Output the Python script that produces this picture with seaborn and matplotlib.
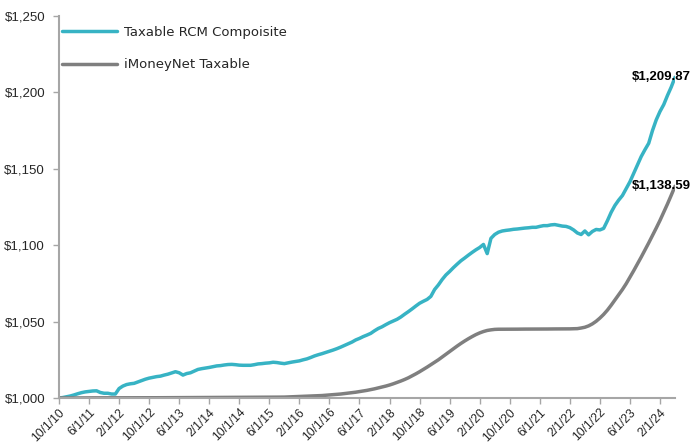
import numpy as np
import pandas as pd
import matplotlib
matplotlib.use("Agg")
import matplotlib.pyplot as plt
import seaborn as sns
from matplotlib.lines import Line2D

# ---------------- data (monthly, 10/2010 .. 6/2024) ----------------
rcm = [
    1000.0, 1000.3, 1000.8, 1001.3, 1002.0, 1002.8, 1003.5, 1004.0, 1004.3, 1004.6,
    1004.7, 1003.6, 1003.1, 1003.1, 1002.6, 1002.6, 1006.2, 1007.8, 1008.8, 1009.3,
    1009.6, 1010.5, 1011.4, 1012.3, 1013.0, 1013.5, 1014.0, 1014.3, 1015.0, 1015.6,
    1016.4, 1017.2, 1016.5, 1015.0, 1016.0, 1016.5, 1017.6, 1018.7, 1019.2, 1019.6,
    1020.0, 1020.5, 1021.0, 1021.2, 1021.6, 1021.9, 1022.0, 1021.8, 1021.5, 1021.4,
    1021.4, 1021.4, 1021.8, 1022.3, 1022.5, 1022.8, 1023.0, 1023.4, 1023.2, 1022.8,
    1022.5, 1023.0, 1023.5, 1023.9, 1024.3, 1025.0, 1025.6, 1026.5, 1027.5, 1028.3,
    1029.0, 1029.8, 1030.6, 1031.4, 1032.3, 1033.3, 1034.4, 1035.5, 1036.6, 1038.0,
    1039.0, 1040.2, 1041.2, 1042.3, 1044.0, 1045.5, 1046.6, 1048.0, 1049.3, 1050.4,
    1051.5, 1053.0, 1054.8, 1056.5, 1058.3, 1060.2, 1062.0, 1063.3, 1064.5, 1066.5,
    1071.0, 1074.0, 1077.5, 1080.5, 1082.8, 1085.3, 1087.6, 1089.8, 1091.6, 1093.5,
    1095.3, 1097.0, 1098.5, 1100.5, 1094.5, 1104.5, 1107.0, 1108.5, 1109.3, 1109.7,
    1110.0, 1110.4, 1110.6, 1110.9, 1111.2, 1111.4, 1111.7, 1111.7, 1112.3, 1112.8,
    1112.8, 1113.3, 1113.5, 1113.0, 1112.5, 1112.3, 1111.5, 1110.0, 1108.0, 1107.0,
    1109.3, 1106.8, 1109.0, 1110.3, 1110.0, 1111.0, 1116.0, 1121.5, 1126.0, 1129.5,
    1132.5, 1137.0, 1141.5, 1147.0, 1152.5, 1158.0, 1162.5, 1166.7, 1175.0, 1182.0,
    1187.5, 1192.0, 1198.0, 1203.5, 1209.87,
]
imoney = [
    1000.0, 1000.0, 1000.0, 1000.0, 1000.0, 1000.05, 1000.05, 1000.05, 1000.1, 1000.1,
    1000.1, 1000.1, 1000.1, 1000.1, 1000.1, 1000.12, 1000.12, 1000.12, 1000.14, 1000.14,
    1000.14, 1000.15, 1000.15, 1000.16, 1000.16, 1000.17, 1000.17, 1000.18, 1000.18, 1000.19,
    1000.2, 1000.2, 1000.21, 1000.22, 1000.23, 1000.24, 1000.25, 1000.26, 1000.27, 1000.28,
    1000.29, 1000.3, 1000.31, 1000.32, 1000.33, 1000.34, 1000.35, 1000.36, 1000.37, 1000.38,
    1000.4, 1000.42, 1000.44, 1000.46, 1000.48, 1000.5, 1000.52, 1000.54, 1000.56, 1000.58,
    1000.6, 1000.7, 1000.8, 1000.9, 1001.0, 1001.1, 1001.2, 1001.3, 1001.4, 1001.5,
    1001.6, 1001.8, 1002.0, 1002.2, 1002.4, 1002.6, 1002.9, 1003.2, 1003.5, 1003.8,
    1004.2, 1004.6, 1005.0, 1005.5, 1006.0, 1006.6, 1007.2, 1007.8, 1008.5, 1009.3,
    1010.2, 1011.1, 1012.1, 1013.2, 1014.5, 1015.8, 1017.2, 1018.7, 1020.2, 1021.8,
    1023.4, 1025.0, 1026.8, 1028.6, 1030.4, 1032.2, 1034.0, 1035.7, 1037.3, 1038.8,
    1040.2, 1041.5, 1042.6, 1043.5, 1044.2, 1044.6, 1044.9, 1045.0, 1045.0, 1045.0,
    1045.05, 1045.05, 1045.05, 1045.1, 1045.1, 1045.1, 1045.1, 1045.1, 1045.15, 1045.15,
    1045.15, 1045.2, 1045.2, 1045.2, 1045.2, 1045.25, 1045.25, 1045.3, 1045.4, 1045.8,
    1046.3, 1047.2, 1048.5, 1050.2, 1052.3, 1054.7, 1057.5, 1060.7, 1064.1, 1067.6,
    1071.0, 1074.8, 1079.0, 1083.3, 1087.7, 1092.2, 1096.8, 1101.5, 1106.3, 1111.2,
    1116.2, 1121.6, 1127.0, 1132.7, 1138.59,
]
series_names = ["Taxable RCM Compoisite", "iMoneyNet Taxable"]
end_labels = ["$1,209.87", "$1,138.59"]
x_tick_labels = ["10/1/10", "6/1/11", "2/1/12", "10/1/12", "6/1/13", "2/1/14",
                 "10/1/14", "6/1/15", "2/1/16", "10/1/16", "6/1/17", "2/1/18",
                 "10/1/18", "6/1/19", "2/1/20", "10/1/20", "6/1/21", "2/1/22",
                 "10/1/22", "6/1/23", "2/1/24"]
y_ticks = [1000, 1050, 1100, 1150, 1200, 1250]
y_tick_labels = ["$1,000", "$1,050", "$1,100", "$1,150", "$1,200", "$1,250"]

colors = ["#37B3C4", "#7F7F7F"]

n = len(rcm)
df = pd.DataFrame({
    "month": list(range(n)) * 2,
    "value": rcm + imoney,
    "series": [series_names[0]] * n + [series_names[1]] * n,
})

sns.set_theme(style="white")
plt.rcParams["font.family"] = ["Liberation Sans", "DejaVu Sans"]

fig = plt.figure(figsize=(6.92, 4.44), dpi=100)
ax = fig.add_axes([59 / 692, 1 - 398 / 444, (675 - 59) / 692, (398 - 16) / 444])

sns.lineplot(data=df, x="month", y="value", hue="series",
             palette=dict(zip(series_names, colors)), linewidth=2.5,
             ax=ax, legend=False)

ax.set_xlim(0, n - 1)
ax.set_ylim(1000, 1250)
ax.set_xticks(list(range(0, n, 8))[:len(x_tick_labels)])
ax.set_xticklabels(x_tick_labels, rotation=45, ha="right", rotation_mode="anchor",
                   fontsize=8.7, color="#262626")
ax.set_yticks(y_ticks)
ax.set_yticklabels(y_tick_labels, fontsize=9.5, color="#262626")
ax.set_xlabel("")
ax.set_ylabel("")

for side in ["top", "right"]:
    ax.spines[side].set_visible(False)
for side in ["left", "bottom"]:
    ax.spines[side].set_color("#A6A6A6")
    ax.spines[side].set_linewidth(1.5)
ax.tick_params(axis="both", which="major", direction="out", length=4,
               width=1, color="#A6A6A6", bottom=True, left=True)
ax.tick_params(axis="x", pad=2)
ax.tick_params(axis="y", pad=6)

# legend
handles = [Line2D([0], [0], color=c, lw=2.5) for c in colors]
leg = ax.legend(handles, series_names, loc="upper left", frameon=False,
                bbox_to_anchor=(-0.0147, 1.006), handlelength=4.2,
                handletextpad=0.5, labelspacing=1.5,
                prop={"family": "DejaVu Sans", "size": 9.5})
for t in leg.get_texts():
    t.set_color("#262626")

# end labels
for vals, lab in zip([rcm, imoney], end_labels):
    ax.annotate(lab, xy=(n - 1, vals[-1]), xytext=(11.5, 0),
                textcoords="offset points", ha="right", va="center",
                fontsize=9.5, fontweight="bold", color="#000000",
                annotation_clip=False)

fig.savefig("out.png", dpi=100)
